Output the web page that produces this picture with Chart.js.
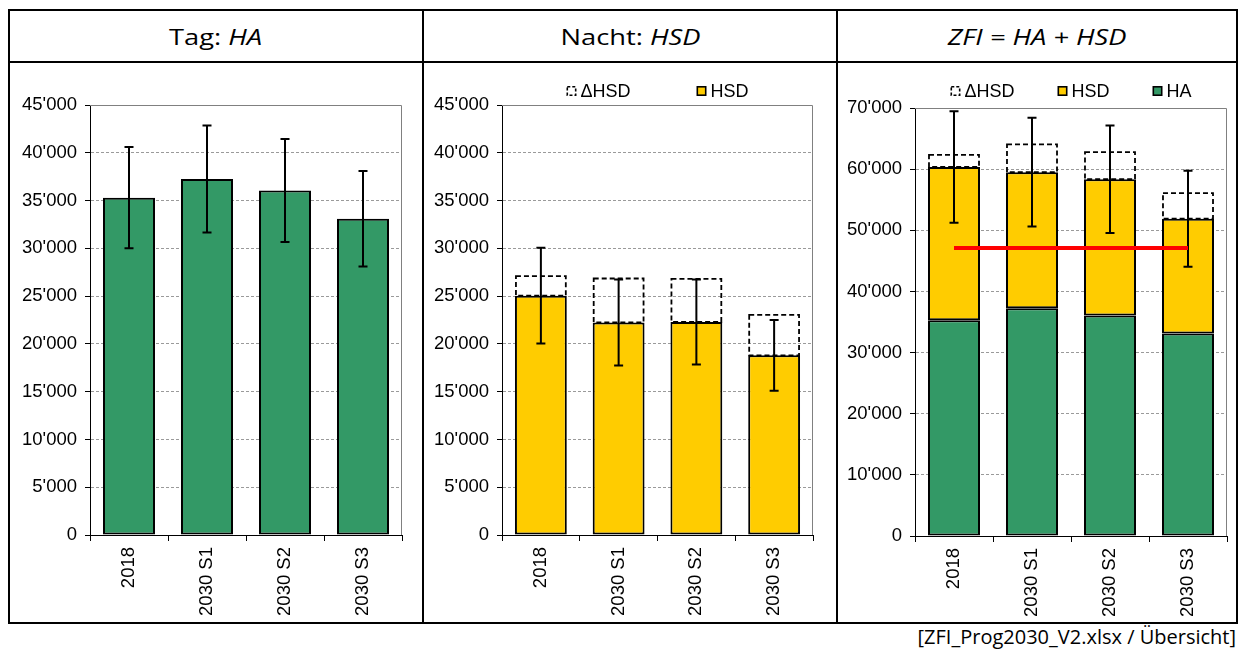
<!DOCTYPE html>
<html>
<head>
<meta charset="utf-8">
<script src="https://cdn.jsdelivr.net/npm/chart.js@4/dist/chart.umd.min.js"></script>
<style>
  html, body { margin: 0; padding: 0; background: #fff; width: 1238px; height: 650px; overflow: hidden; }
  .line { position: absolute; background: #000; }
  .head { position: absolute; top: 11px; height: 50px; line-height: 50px; text-align: center;
          font-family: "Open Sans", "Noto Sans", sans-serif; font-size: 22px; color: #000; }
  .head span { display: inline-block; transform: scaleX(1.24); }
  .head i { font-style: italic; }
  canvas { position: absolute; }
  #src { position: absolute; right: 2px; top: 623px; font-family: "Open Sans", "Noto Sans", sans-serif;
         font-size: 20px; color: #000; white-space: nowrap; }
</style>
</head>
<body>
<!-- table frame -->
<div class="line" style="left:8px;top:9px;width:1230px;height:2px"></div>
<div class="line" style="left:8px;top:622px;width:1230px;height:2px"></div>
<div class="line" style="left:8px;top:9px;width:2px;height:615px"></div>
<div class="line" style="left:1236px;top:9px;width:2px;height:615px"></div>
<div class="line" style="left:422px;top:9px;width:2px;height:615px"></div>
<div class="line" style="left:836px;top:9px;width:2px;height:615px"></div>
<div class="line" style="left:8px;top:61px;width:1230px;height:2px"></div>

<div class="head" style="left:10px;width:412px"><span>Tag: <i>HA</i></span></div>
<div class="head" style="left:424px;width:412px"><span>Nacht: <i>HSD</i></span></div>
<div class="head" style="left:838px;width:398px"><span><i>ZFI = HA + HSD</i></span></div>

<canvas id="c1" width="412" height="559" style="left:10px;top:63px"></canvas>
<canvas id="c2" width="412" height="559" style="left:424px;top:63px"></canvas>
<canvas id="c3" width="398" height="559" style="left:838px;top:63px"></canvas>

<div id="src">[ZFI_Prog2030_V2.xlsx / Übersicht]</div>

<script>
// Scenario categories
const categories = ['2018', '2030 S1', '2030 S2', '2030 S3'];

// Tag: HA values and their uncertainty (±)
const haValues = [35300, 37250, 36050, 33100];
const haErr    = [5300, 5600, 5400, 5000];

// Nacht: HSD values, additional ΔHSD and uncertainty (±)
const hsdValues  = [25050, 22250, 22300, 18800];
const dHsdValues = [2150, 4700, 4600, 4350];
const hsdErr     = [5000, 4500, 4450, 3700];

// ZFI = HA + HSD uncertainty (±) and reference level
const zfiErr   = [9100, 8900, 8800, 7850];
const zfiLimit = [47100, 47100, 47100, 47100];

const zfiValues = haValues.map((v, i) => v + hsdValues[i]);

const GREEN = '#339966';
const YELLOW = '#FFCC00';
const FONT = '"Liberation Sans", Arial, sans-serif';

function fmt(v) {
  return String(v).replace(/\B(?=(\d{3})+(?!\d))/g, "'");
}

// Frame, dashed ΔHSD boxes, error bars and legend
const overlay = {
  id: 'overlay',
  beforeDraw(chart) { chart.$overlayDone = false; },
  beforeDatasetsDraw(chart) {
    const a = chart.chartArea, ctx = chart.ctx;
    ctx.save();
    ctx.strokeStyle = '#808080';
    ctx.lineWidth = 1;
    ctx.beginPath();
    ctx.moveTo(a.left, a.top + 0.5);
    ctx.lineTo(a.right - 0.5, a.top + 0.5);
    ctx.lineTo(a.right - 0.5, a.bottom);
    ctx.stroke();
    ctx.restore();
  },
  beforeDatasetDraw(chart, args) {
    if (args.meta.type === 'line' && !chart.$overlayDone) drawMarks(chart);
  },
  afterDatasetsDraw(chart) {
    if (!chart.$overlayDone) drawMarks(chart);
  },
  afterDraw(chart) {
    const opts = chart.options.plugins.overlay;
    if (!opts.legend) return;
    const ctx = chart.ctx;
    const items = chart.data.datasets
      .map((d, i) => ({ d, i }))
      .filter(o => o.d.type !== 'line')
      .reverse();
    ctx.save();
    ctx.font = '18px ' + FONT;
    const box = 10, gap = 4, spacing = opts.legendGap;
    let total = 0;
    items.forEach((o, k) => {
      o.w = box + gap + ctx.measureText(o.d.label).width;
      total += o.w + (k ? spacing : 0);
    });
    const a = chart.chartArea;
    let x = (a.left + a.right) / 2 - total / 2;
    const y = opts.legendY;
    items.forEach(o => {
      ctx.save();
      ctx.lineWidth = 1.6;
      ctx.strokeStyle = '#000';
      if (o.d.dashed) {
        ctx.setLineDash([3, 2]);
        ctx.strokeRect(x + 0.8, y - box / 2 + 0.8, box - 1.6, box - 1.6);
      } else {
        ctx.fillStyle = o.d.backgroundColor;
        ctx.fillRect(x + 0.8, y - box / 2 + 0.8, box - 1.6, box - 1.6);
        ctx.strokeRect(x + 0.8, y - box / 2 + 0.8, box - 1.6, box - 1.6);
      }
      ctx.restore();
      ctx.fillStyle = '#000';
      ctx.textBaseline = 'middle';
      ctx.fillText(o.d.label, x + box + gap, y + 1);
      x += o.w + spacing;
    });
    ctx.restore();
  }
};

function drawMarks(chart) {
  chart.$overlayDone = true;
  const ctx = chart.ctx;
  const yScale = chart.scales.y;
  const opts = chart.options.plugins.overlay;
  // dashed outlines
  chart.data.datasets.forEach((d, i) => {
    if (!d.dashed) return;
    chart.getDatasetMeta(i).data.forEach(el => {
      const p = el.getProps(['x', 'y', 'base', 'width'], true);
      ctx.save();
      ctx.strokeStyle = '#000';
      ctx.lineWidth = 1.8;
      ctx.setLineDash([5, 3]);
      ctx.strokeRect(p.x - p.width / 2 + 1, p.y + 1, p.width - 2, p.base - p.y - 1);
      ctx.restore();
    });
  });
  // error bars
  const meta = chart.getDatasetMeta(0);
  meta.data.forEach((el, i) => {
    const c = opts.center[i], e = opts.err[i];
    const x = el.x;
    const y1 = yScale.getPixelForValue(c + e);
    const y2 = yScale.getPixelForValue(c - e);
    ctx.save();
    ctx.strokeStyle = '#000';
    ctx.lineWidth = 2;
    ctx.beginPath();
    ctx.moveTo(x, y1); ctx.lineTo(x, y2);
    ctx.moveTo(x - 4.5, y1); ctx.lineTo(x + 4.5, y1);
    ctx.moveTo(x - 4.5, y2); ctx.lineTo(x + 4.5, y2);
    ctx.stroke();
    ctx.restore();
  });
}

function makeChart(id, datasets, p) {
  const canvas = document.getElementById(id);
  const W = canvas.width, H = canvas.height;
  return new Chart(canvas, {
    type: 'bar',
    data: { labels: categories, datasets },
    plugins: [overlay],
    options: {
      responsive: false,
      animation: false,
      layout: { padding: { left: 0, right: W - p.right, top: p.top, bottom: 0 } },
      plugins: {
        legend: { display: false },
        tooltip: { enabled: false },
        overlay: { center: p.center, err: p.err, legend: p.legend, legendGap: p.legendGap, legendY: 28 }
      },
      datasets: { bar: { barPercentage: 0.667, categoryPercentage: 1 } },
      scales: {
        x: {
          stacked: p.stacked,
          afterFit(s) { s.height = H - p.bottom; },
          grid: { display: true, offset: true, drawOnChartArea: false, drawTicks: true,
                  tickLength: 6, tickColor: '#000', tickWidth: 1 },
          border: { display: true, color: '#000', width: 1 },
          ticks: { color: '#000', font: { family: FONT, size: 18.5 }, minRotation: 90, maxRotation: 90,
                   autoSkip: false, padding: 6 }
        },
        y: {
          stacked: p.stacked,
          min: 0, max: p.max,
          afterFit(s) { s.width = p.left; },
          grid: {
            color: ctx => (ctx.tick && (ctx.tick.value === 0 || ctx.tick.value === p.max)) ? 'rgba(0,0,0,0)' : '#9a9a9a',
            tickColor: '#000', tickLength: 5, tickWidth: 1, tickBorderDash: [], lineWidth: 1
          },
          border: { display: true, color: '#000', width: 1, dash: [3, 2] },
          ticks: { stepSize: p.step, color: '#000', font: { family: FONT, size: 18.5 }, padding: 8,
                   callback: v => fmt(v) }
        }
      }
    }
  });
}

const barStyle = { borderColor: '#000', borderWidth: 2, borderSkipped: false, order: 1 };

// Tag: HA
makeChart('c1', [
  { label: 'HA', data: haValues, backgroundColor: GREEN, ...barStyle }
], { left: 80, right: 392, top: 42, bottom: 472, max: 45000, step: 5000, stacked: false,
     center: haValues, err: haErr, legend: false, legendGap: 0 });

// Nacht: HSD
makeChart('c2', [
  { label: 'HSD', data: hsdValues, backgroundColor: YELLOW, ...barStyle },
  { label: 'ΔHSD', data: dHsdValues, backgroundColor: 'rgba(0,0,0,0)', borderWidth: 0, dashed: true, order: 1 }
], { left: 78, right: 389, top: 42, bottom: 472, max: 45000, step: 5000, stacked: true,
     center: hsdValues, err: hsdErr, legend: true, legendGap: 66 });

// ZFI = HA + HSD
makeChart('c3', [
  { label: 'HA', data: haValues, backgroundColor: GREEN, stack: 'zfi', ...barStyle },
  { label: 'HSD', data: hsdValues, backgroundColor: YELLOW, stack: 'zfi', ...barStyle },
  { label: 'ΔHSD', data: dHsdValues, backgroundColor: 'rgba(0,0,0,0)', borderWidth: 0, dashed: true, stack: 'zfi', order: 1 },
  { type: 'line', label: 'Grenze', data: zfiLimit, stack: 'ref', borderColor: '#FF0000', borderWidth: 4,
    pointRadius: 0, fill: false, order: 0 }
], { left: 77, right: 389, top: 45, bottom: 473, max: 70000, step: 10000, stacked: true,
     center: zfiValues, err: zfiErr, legend: true, legendGap: 43 });
</script>
</body>
</html>
